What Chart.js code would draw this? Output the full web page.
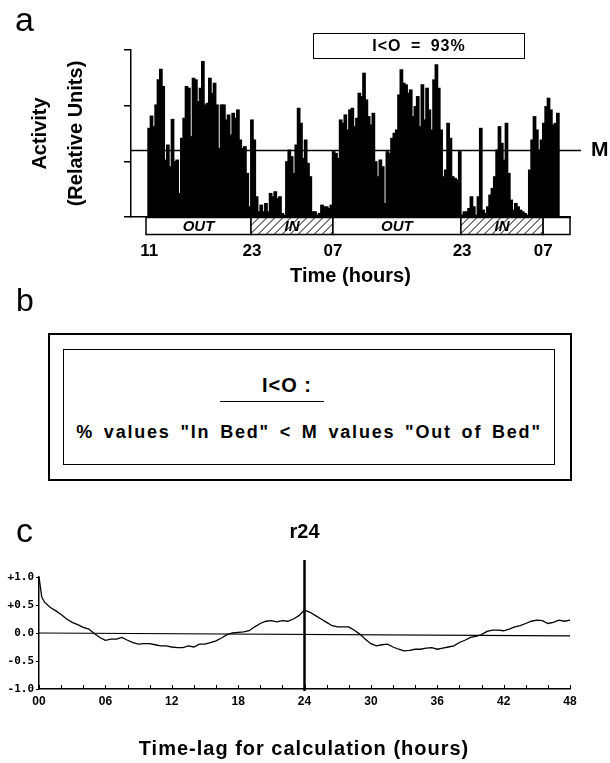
<!DOCTYPE html>
<html><head><meta charset="utf-8">
<script src="https://cdn.jsdelivr.net/npm/chart.js@4.4.1/dist/chart.umd.min.js"></script>
<style>
html,body{margin:0;padding:0;background:#fff;}
body{width:610px;height:763px;position:relative;overflow:hidden;font-family:"Liberation Sans",Arial,sans-serif;color:#000;}
.abs{position:absolute;white-space:nowrap;line-height:1;}
.bt{font-weight:bold;}
canvas{position:absolute;}
</style></head><body>
<canvas id="ca" width="610" height="290" style="left:0;top:0;width:610px;height:290px"></canvas>
<canvas id="cc" width="610" height="248" style="left:0;top:515px;width:610px;height:248px"></canvas>

<div class="abs" style="left:15px;top:2px;font-size:34px">a</div>
<div class="abs bt" id="iobox" style="left:313px;top:33px;width:212px;height:26px;border:1.5px solid #000;box-sizing:border-box;text-align:center;font-size:16px;line-height:23px;letter-spacing:1px;word-spacing:4px"></div>
<div class="abs bt" style="left:591px;top:138px;font-size:21px">M</div>

<div class="abs" style="left:16px;top:284px;font-size:32px">b</div>
<div class="abs" style="left:48px;top:333px;width:524px;height:148px;border:2px solid #000;box-sizing:border-box"></div>
<div class="abs" style="left:63px;top:349px;width:492px;height:116px;border:1.5px solid #000;box-sizing:border-box"></div>
<div class="abs bt" style="left:262px;top:375px;font-size:20px;letter-spacing:1px">I&lt;O :</div>
<div class="abs" style="left:220px;top:401px;width:104px;height:0;border-top:1.5px solid #000"></div>
<div class="abs bt" style="left:63px;width:492px;top:423px;text-align:center;font-size:18px;letter-spacing:1.8px;word-spacing:3px">% values "In Bed" &lt; M values "Out of Bed"</div>

<div class="abs" style="left:16px;top:513px;font-size:34px">c</div>
<div class="abs bt" style="left:104px;width:400px;top:738px;text-align:center;font-size:20px;letter-spacing:1px">Time-lag for calculation (hours)</div>

<script>
// ---------- Panel a data ----------
const activity = [
 1.59,1.81,1.62,2.01,2.46,2.65,2.34,1.02,1.29,0.9,
 1.75,0.99,1.02,0.42,1.41,1.77,2.34,2.31,1.44,2.49,
 2.46,2.07,2.31,2.79,2.01,2.04,2.49,2.22,2.4,2.01,
 1.23,2.01,2.01,1.74,1.83,1.47,1.86,1.77,1.92,1.38,
 1.23,1.26,0.78,0.18,1.74,1.38,0.36,0.09,0.21,0.09,
 0.24,0.09,0.42,0.36,0.45,0.33,0.36,0.06,0.03,0.99,
 1.2,1.08,0.78,1.29,1.95,1.68,1.05,1.38,0.96,0.72,
 0.09,0.09,0.03,0.06,0.21,0.18,0.18,0.15,0.21,
 1.17,1.14,1.05,1.74,1.68,1.83,1.56,1.92,1.95,1.62,
 1.77,2.22,2.16,2.58,2.1,1.8,1.65,1.86,0.99,0.72,
 1.02,0.9,0.24,1.17,1.14,1.41,1.5,1.56,2.19,2.64,
 2.4,2.37,2.22,2.28,1.8,1.98,2.16,1.62,2.37,1.74,
 2.31,1.92,1.56,2.46,2.73,2.31,1.56,0.72,0.84,1.68,
 1.41,0.72,0.69,0.66,1.17,
 0.03,0.09,0.09,0.15,0.36,0.18,0.03,0.36,1.59,0.12,
 0.06,0.18,0.39,0.51,0.72,1.2,1.62,1.32,1.02,1.68,
 0.78,0.3,0.12,0.24,0.18,0.12,0.09,0.06,0.03,0.84,
 1.38,1.8,1.56,1.2,1.38,1.68,1.98,2.13,1.92,1.65,
 1.68,1.86
];
const timeTickIdx    = [0, 44, 78.7, 134, 168.7];
const timeTickLabels = ['11', '23', '07', '23', '07'];
const bedBounds = [-1.36, 43.6, 78.7, 133.5, 168.7, 180.2];
const bedStates = ['OUT', 'IN', 'OUT', 'IN', ''];
const M_LEVEL = 1.2;
const IO_PCT = 93;

// ---------- Panel c data ----------
const lagHours = [0,0.25,0.5,1,1.5,2,2.5,3,3.5,4,4.5,5,5.5,6,6.5,7,7.5,8,8.5,9,9.5,10,10.5,11,11.5,12,12.5,13,13.5,14,14.5,15,15.5,16,16.5,17,17.5,18,18.5,19,19.5,20,20.5,21,21.5,22,22.5,23,23.5,24,24.5,25,25.5,26,26.5,27,27.5,28,28.5,29,29.5,30,30.5,31,31.5,32,32.5,33,33.5,34,34.5,35,35.5,36,36.5,37,37.5,38,38.5,39,39.5,40,40.5,41,41.5,42,42.5,43,43.5,44,44.5,45,45.5,46,46.5,47,47.5,48];
const autocorr = [1.0,0.64,0.55,0.46,0.40,0.33,0.25,0.19,0.15,0.10,0.07,-0.01,-0.08,-0.13,-0.11,-0.11,-0.08,-0.13,-0.17,-0.20,-0.19,-0.19,-0.21,-0.23,-0.23,-0.25,-0.26,-0.26,-0.23,-0.25,-0.20,-0.20,-0.17,-0.14,-0.09,-0.03,0.00,0.01,0.02,0.04,0.11,0.17,0.21,0.22,0.20,0.22,0.21,0.25,0.31,0.41,0.37,0.31,0.25,0.19,0.13,0.11,0.11,0.11,0.05,-0.02,-0.11,-0.19,-0.23,-0.21,-0.20,-0.25,-0.29,-0.32,-0.31,-0.29,-0.29,-0.27,-0.26,-0.29,-0.27,-0.25,-0.23,-0.17,-0.13,-0.08,-0.06,-0.03,0.03,0.05,0.05,0.04,0.07,0.11,0.13,0.17,0.21,0.23,0.22,0.17,0.19,0.23,0.21,0.23];
const zeroLag  = [0, 48];
const zeroLine = [0, -0.05];
const lagTickLabels  = ['00','06','12','18','24','30','36','42','48'];
const corrTickValues = [1, 0.5, 0, -0.5, -1];
const corrTickLabels = ['+1.0', '+0.5', '0.0', '-0.5', '-1.0'];
const PEAK_LAG = 24;
const PEAK_NAME = 'r24';

document.getElementById('iobox').textContent = 'I<O = ' + IO_PCT + '%';

const FAM = '"Liberation Sans", Arial, sans-serif';

// strip with OUT / IN periods and the M line
const stripPlugin = {
  id: 'strip',
  afterDatasetsDraw(chart) {
    const {ctx, chartArea, scales} = chart;
    const x = scales.x, y = scales.y;
    const ym = Math.round(y.getPixelForValue(M_LEVEL)) + 0.5;
    ctx.save();
    ctx.strokeStyle = '#000'; ctx.lineWidth = 1.5;
    ctx.beginPath(); ctx.moveTo(chartArea.left, ym); ctx.lineTo(chartArea.right + 11, ym); ctx.stroke();
    const top = chartArea.bottom + 0.5, h = 17;
    for (let k = 0; k < bedStates.length; k++) {
      const x0 = x.getPixelForValue(bedBounds[k]);
      const x1 = x.getPixelForValue(bedBounds[k + 1]);
      ctx.fillStyle = '#fff';
      ctx.fillRect(x0, top, x1 - x0, h);
      if (bedStates[k] === 'IN') {
        ctx.save();
        ctx.beginPath(); ctx.rect(x0, top, x1 - x0, h); ctx.clip();
        ctx.lineWidth = 1;
        ctx.beginPath();
        for (let xx = x0 - h; xx < x1 + h; xx += 8) {
          ctx.moveTo(xx, top + h); ctx.lineTo(xx + h, top);
        }
        ctx.stroke();
        ctx.restore();
      }
      ctx.lineWidth = 1.5;
      ctx.strokeRect(x0, top, x1 - x0, h);
      if (bedStates[k]) {
        ctx.fillStyle = '#000';
        ctx.font = 'italic bold 15px ' + FAM;
        ctx.textAlign = 'center'; ctx.textBaseline = 'middle';
        ctx.fillText(bedStates[k], (x0 + x1) / 2, top + h / 2 + 1);
      }
    }
    ctx.restore();
  }
};

new Chart(document.getElementById('ca'), {
  type: 'bar',
  data: { datasets: [{
    data: activity.map((v, i) => ({x: i, y: v})),
    backgroundColor: '#000', borderWidth: 0, barPercentage: 1, categoryPercentage: 1, inflateAmount: 0.7
  }]},
  options: {
    responsive: false, animation: false, events: [],
    layout: { padding: { top: 50, left: 0, right: 40, bottom: 0 } },
    plugins: { legend: { display: false }, tooltip: { enabled: false } },
    scales: {
      x: {
        type: 'linear', min: -7.78, max: 180.2, offset: false,
        afterFit(s) { s.height = 73; },
        afterBuildTicks(s) { s.ticks = timeTickIdx.map(v => ({ value: v })); },
        ticks: { callback: (v, i) => timeTickLabels[i], autoSkip: false, maxRotation: 0,
                 font: { family: FAM, size: 17, weight: 'bold' }, color: '#000', padding: 24 },
        grid: { display: false, drawTicks: false, offset: false },
        border: { display: true, color: '#000', width: 1.5 },
        title: { display: true, text: 'Time (hours)', color: '#000',
                 font: { family: FAM, size: 20, weight: 'bold', lineHeight: 1.2 }, padding: { top: 0, bottom: 2 } }
      },
      y: {
        min: 0, max: 3,
        afterFit(s) { s.width = 131; },
        ticks: { display: false, stepSize: 1 },
        grid: { drawOnChartArea: false, drawTicks: true, tickLength: 7, color: '#000', lineWidth: 1.5 },
        border: { display: true, color: '#000', width: 1.5 },
        title: { display: true, text: ['Activity', '(Relative Units)'], color: '#000',
                 font: { family: FAM, size: 20, weight: 'bold', lineHeight: 1.8 }, padding: { top: 22, bottom: 0 } }
      }
    }
  },
  plugins: [stripPlugin]
});

const peakPlugin = {
  id: 'peak',
  afterDraw(chart) {
    const {ctx, chartArea, scales} = chart;
    const x = scales.x;
    ctx.save();
    ctx.strokeStyle = '#000';
    ctx.lineWidth = 1;
    ctx.beginPath();
    x.ticks.forEach(t => {
      const px = Math.round(x.getPixelForValue(t.value)) + 0.5;
      ctx.moveTo(px, chartArea.bottom); ctx.lineTo(px, chartArea.bottom - 4);
    });
    ctx.stroke();
    const xp = x.getPixelForValue(PEAK_LAG);
    ctx.lineWidth = 2.5;
    ctx.beginPath(); ctx.moveTo(xp, 45); ctx.lineTo(xp, chartArea.bottom + 2); ctx.stroke();
    ctx.fillStyle = '#000';
    ctx.font = 'bold 20px ' + FAM;
    ctx.textAlign = 'center'; ctx.textBaseline = 'middle';
    ctx.fillText(PEAK_NAME, xp, 17);
    ctx.restore();
  }
};

new Chart(document.getElementById('cc'), {
  type: 'line',
  data: { datasets: [
    { data: lagHours.map((h, i) => ({x: h, y: autocorr[i]})), borderColor: '#000', borderWidth: 1.3,
      pointRadius: 0, tension: 0, fill: false },
    { data: zeroLag.map((h, i) => ({x: h, y: zeroLine[i]})), borderColor: '#000', borderWidth: 1.2,
      pointRadius: 0, tension: 0, fill: false }
  ]},
  options: {
    responsive: false, animation: false, events: [],
    layout: { padding: { top: 62, left: 0, right: 40, bottom: 0 } },
    plugins: { legend: { display: false }, tooltip: { enabled: false } },
    scales: {
      x: {
        type: 'linear', min: 0, max: 48,
        afterFit(s) { s.height = 74; },
        ticks: { stepSize: 2, autoSkip: false, maxRotation: 0,
                 callback: v => (v % 6 === 0 ? lagTickLabels[v / 6] : ''),
                 font: { family: FAM, size: 12, weight: 'bold' }, color: '#000', padding: 5 },
        grid: { display: false, drawTicks: false },
        border: { display: true, color: '#000', width: 1.5 }
      },
      y: {
        min: -1, max: 1,
        afterFit(s) { s.width = 39; },
        ticks: { stepSize: 0.5, callback: v => { const k = corrTickValues.indexOf(+(+v).toFixed(1)); return k >= 0 ? corrTickLabels[k] : ''; },
                 font: { family: '"DejaVu Sans Mono", monospace', size: 11, weight: 'bold' }, color: '#000', padding: 2 },
        grid: { drawOnChartArea: false, drawTicks: true, tickLength: 3, color: '#000', lineWidth: 1 },
        border: { display: true, color: '#000', width: 1.5 }
      }
    }
  },
  plugins: [peakPlugin]
});
</script>
</body></html>
